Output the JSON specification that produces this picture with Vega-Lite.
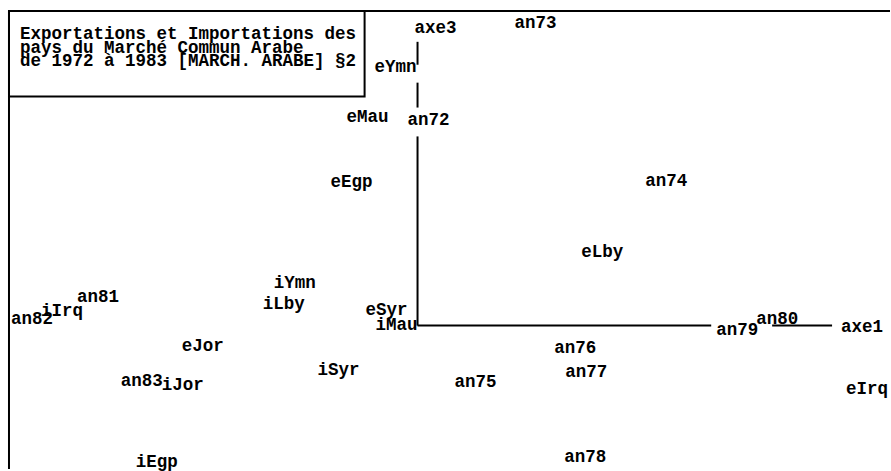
{
  "$schema": "https://vega.github.io/schema/vega-lite/v6.json",
  "width": 891,
  "height": 471,
  "autosize": {"type": "fit", "contains": "padding"},
  "padding": 0,
  "background": "white",
  "config": {"view": {"stroke": null}},
  "datasets": {
    "points": [
      {"label": "axe3", "x": 0.18, "y": 2.99},
      {"label": "an73", "x": 1.18, "y": 3.04},
      {"label": "eYmn", "x": -0.22, "y": 2.60},
      {"label": "eMau", "x": -0.50, "y": 2.09},
      {"label": "an72", "x": 0.11, "y": 2.06},
      {"label": "eEgp", "x": -0.66, "y": 1.44},
      {"label": "an74", "x": 2.49, "y": 1.45},
      {"label": "eLby", "x": 1.85, "y": 0.74},
      {"label": "iYmn", "x": -1.23, "y": 0.43},
      {"label": "iLby", "x": -1.34, "y": 0.22},
      {"label": "eSyr", "x": -0.31, "y": 0.16},
      {"label": "iMau", "x": -0.21, "y": 0.01},
      {"label": "iSyr", "x": -0.79, "y": -0.45},
      {"label": "an75", "x": 0.58, "y": -0.57},
      {"label": "an76", "x": 1.58, "y": -0.22},
      {"label": "an77", "x": 1.69, "y": -0.47},
      {"label": "an79", "x": 3.20, "y": -0.04},
      {"label": "an80", "x": 3.60, "y": 0.07},
      {"label": "axe1", "x": 4.45, "y": -0.01},
      {"label": "eIrq", "x": 4.50, "y": -0.64},
      {"label": "an78", "x": 1.68, "y": -1.32},
      {"label": "an81", "x": -3.20, "y": 0.29},
      {"label": "an82", "x": -3.86, "y": 0.07},
      {"label": "iIrq", "x": -3.56, "y": 0.15},
      {"label": "eJor", "x": -2.15, "y": -0.20},
      {"label": "an83", "x": -2.76, "y": -0.56},
      {"label": "iJor", "x": -2.35, "y": -0.60},
      {"label": "iEgp", "x": -2.61, "y": -1.37}
    ],
    "segments": [
      {"x": 0, "x2": 0, "y": 2.85, "y2": 2.62},
      {"x": 0, "x2": 0, "y": 2.44, "y2": 2.19},
      {"x": 0, "x2": 0, "y": 1.90, "y2": 0},
      {"x": 0, "x2": 2.94, "y": 0, "y2": 0},
      {"x": 3.55, "x2": 4.15, "y": 0, "y2": 0},
      {"x": -4.09, "x2": 4.73, "y": 3.16, "y2": 3.16},
      {"x": -4.09, "x2": -4.09, "y": 3.16, "y2": -1.44}
    ],
    "box": [
      {"x": -4.09, "x2": -0.53, "y": 3.16, "y2": 2.30}
    ],
    "title": [
      {"line": "Exportations et Importations des", "x": -3.98, "y": 2.925},
      {"line": "pays du Marché Commun Arabe", "x": -3.98, "y": 2.79},
      {"line": "de 1972 à 1983 [MARCH. ARABE] §2", "x": -3.98, "y": 2.655}
    ]
  },
  "layer": [
    {
      "data": {"name": "box"},
      "mark": {"type": "rect", "fill": "white", "stroke": "black", "strokeWidth": 2},
      "encoding": {
        "x": {"field": "x", "type": "quantitative", "scale": {"domain": [-4.18, 4.73], "nice": false, "zero": false}, "axis": null},
        "x2": {"field": "x2"},
        "y": {"field": "y", "type": "quantitative", "scale": {"domain": [-1.44, 3.27], "nice": false, "zero": false}, "axis": null},
        "y2": {"field": "y2"}
      }
    },
    {
      "data": {"name": "segments"},
      "mark": {"type": "rule", "color": "black", "strokeWidth": 2},
      "encoding": {
        "x": {"field": "x", "type": "quantitative", "scale": {"domain": [-4.18, 4.73], "nice": false, "zero": false}, "axis": null},
        "x2": {"field": "x2"},
        "y": {"field": "y", "type": "quantitative", "scale": {"domain": [-1.44, 3.27], "nice": false, "zero": false}, "axis": null},
        "y2": {"field": "y2"}
      }
    },
    {
      "data": {"name": "title"},
      "mark": {"type": "text", "align": "left", "baseline": "middle", "font": "Liberation Mono", "fontSize": 17.5, "fontWeight": "bold", "color": "black"},
      "encoding": {
        "x": {"field": "x", "type": "quantitative", "scale": {"domain": [-4.18, 4.73], "nice": false, "zero": false}, "axis": null},
        "y": {"field": "y", "type": "quantitative", "scale": {"domain": [-1.44, 3.27], "nice": false, "zero": false}, "axis": null},
        "text": {"field": "line"}
      }
    },
    {
      "data": {"name": "points"},
      "mark": {"type": "text", "align": "center", "baseline": "middle", "font": "Liberation Mono", "fontSize": 17.5, "fontWeight": "bold", "color": "black"},
      "encoding": {
        "x": {"field": "x", "type": "quantitative", "scale": {"domain": [-4.18, 4.73], "nice": false, "zero": false}, "axis": null},
        "y": {"field": "y", "type": "quantitative", "scale": {"domain": [-1.44, 3.27], "nice": false, "zero": false}, "axis": null},
        "text": {"field": "label"}
      }
    }
  ]
}
